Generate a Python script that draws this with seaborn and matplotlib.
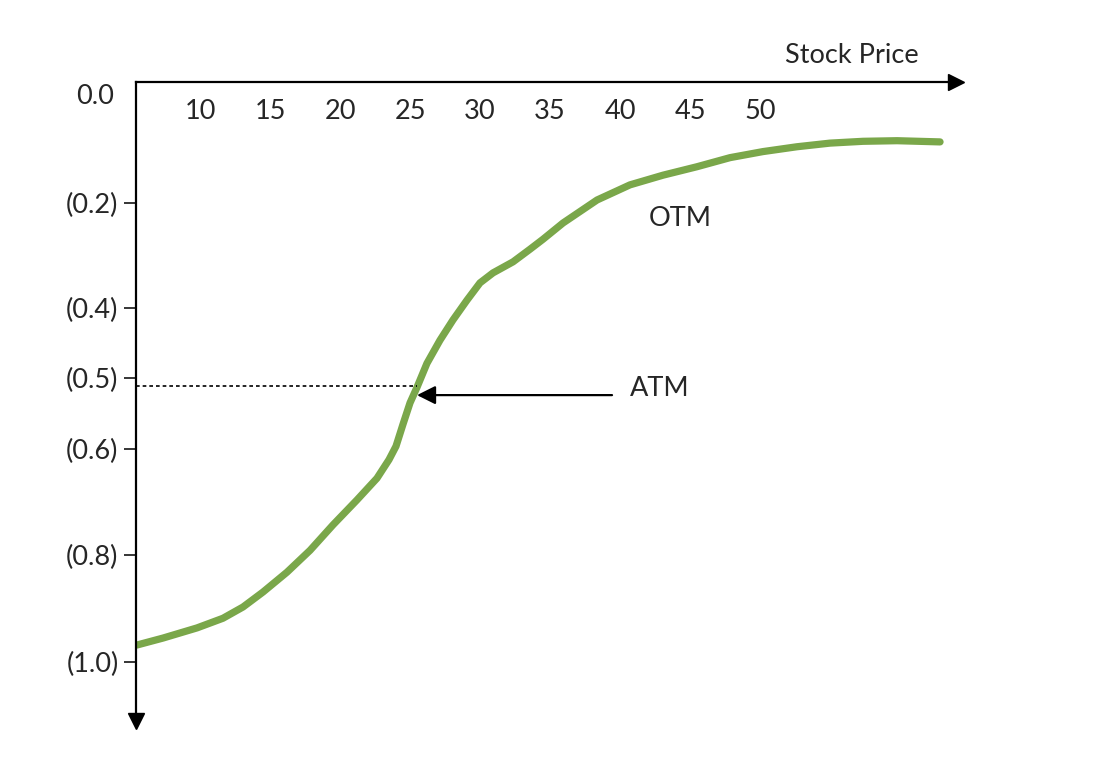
import numpy as np
import matplotlib
matplotlib.use('Agg')
import matplotlib.pyplot as plt
import seaborn as sns

# put delta curve
stock_price = [5.5, 7.36, 9.79, 11.64, 13.07, 14.5, 16.21, 17.86, 19.5, 21.21,
               22.64, 23.5, 24.0, 24.5, 25.0, 25.5, 26.21, 27.14, 28.07, 29.07, 30.0,
               30.93, 32.36, 33.57, 34.5, 35.93, 38.36, 40.71, 43.07, 45.5, 47.86,
               50.21, 52.64, 55.0, 57.36, 59.79, 62.86]
put_delta = [0.968, 0.955, 0.936, 0.918, 0.897, 0.869, 0.832, 0.791, 0.743, 0.696,
             0.655, 0.620, 0.596, 0.565, 0.535, 0.513, 0.479, 0.446, 0.417, 0.385, 0.352,
             0.333, 0.312, 0.288, 0.269, 0.238, 0.195, 0.170, 0.154, 0.140, 0.125,
             0.115, 0.107, 0.101, 0.098, 0.097, 0.099]

x_ticks = [10, 15, 20, 25, 30, 35, 40, 45, 50]
y_ticks = [0.2, 0.4, 0.5, 0.6, 0.8, 1.0]
y_tick_labels = ['(0.2)', '(0.4)', '(0.5)', '(0.6)', '(0.8)', '(1.0)']

atm_price = 25.5
atm_delta = 0.511

# the hand drawn axis is not evenly spaced: where each delta sits (pixels down from the axis)
knot_delta = [0.0, 0.2, 0.4, 0.5, 0.6, 0.8, 1.0]
knot_depth = [0, 121, 226, 296, 367, 473, 580]


def forward(v):
    v = np.asarray(v, dtype=float)
    out = np.interp(v, knot_delta, knot_depth)
    out = np.where(v > 1.0, 580 + (v - 1.0) * 535, out)
    out = np.where(v < 0.0, v * 605, out)
    return out


def inverse(d):
    d = np.asarray(d, dtype=float)
    out = np.interp(d, knot_depth, knot_delta)
    out = np.where(d > 580, 1.0 + (d - 580) / 535, out)
    out = np.where(d < 0, d / 605, out)
    return out


sns.set_style('white')
plt.rcParams['font.family'] = ['Lato', 'DejaVu Sans']
fs = 19.5

fig = plt.figure(figsize=(10.96, 7.84), dpi=100)
ax = fig.add_axes([0.12409, 0.08036, 0.74818, 0.81505])

green = '#7aa74a'
sns.lineplot(x=stock_price, y=put_delta, ax=ax, color=green, linewidth=5.2,
             solid_capstyle='round', solid_joinstyle='round')

ax.set_yscale('function', functions=(forward, inverse))
ax.set_xlim(5.4286, 64.0)
ax.set_ylim(1.110, 0.0)

# axes: top and left spines with arrow heads
for side in ['right', 'bottom']:
    ax.spines[side].set_visible(False)
for side in ['top', 'left']:
    ax.spines[side].set_color('black')
    ax.spines[side].set_linewidth(1.6)
ax.plot(1, 1, '>', color='black', markersize=11, transform=ax.transAxes, clip_on=False)
ax.plot(0, 0, 'v', color='black', markersize=11, transform=ax.transAxes, clip_on=False)

ax.xaxis.tick_top()
ax.set_xticks(x_ticks)
ax.set_xticklabels([str(t) for t in x_ticks])
ax.tick_params(axis='x', top=False, bottom=False, labeltop=True, labelbottom=False,
               pad=-34, labelsize=fs)

ax.set_yticks(y_ticks)
ax.set_yticklabels(y_tick_labels)
ax.tick_params(axis='y', left=True, length=8.6, width=1.1, color='black',
               pad=4.0, labelsize=fs)

ax.annotate('0.0', xy=(0, 0), xycoords=('axes fraction', 'data'),
            xytext=(-22, -15), textcoords='offset pixels',
            ha='right', va='center', fontsize=fs)

ax.set_xlabel('Stock Price', fontsize=fs)
ax.xaxis.set_label_position('top')
ax.xaxis.set_label_coords(0.873, 1.029)
ax.set_ylabel('')

# ATM marker
ax.plot([5.4286, atm_price], [atm_delta, atm_delta], color='black', lw=1.2,
        linestyle=(0, (2.2, 1.8)))
ax.annotate('', xy=(25.5, 0.524), xytext=(39.43, 0.524),
            arrowprops=dict(arrowstyle='-|>', color='black', lw=1.6, mutation_scale=28,
                            shrinkA=0, shrinkB=0))
ax.text(42.86, 0.514, 'ATM', ha='center', va='center', fontsize=fs)
ax.text(44.29, 0.229, 'OTM', ha='center', va='center', fontsize=fs)

ax.grid(False)
fig.savefig('out.png', dpi=100, facecolor='white')
